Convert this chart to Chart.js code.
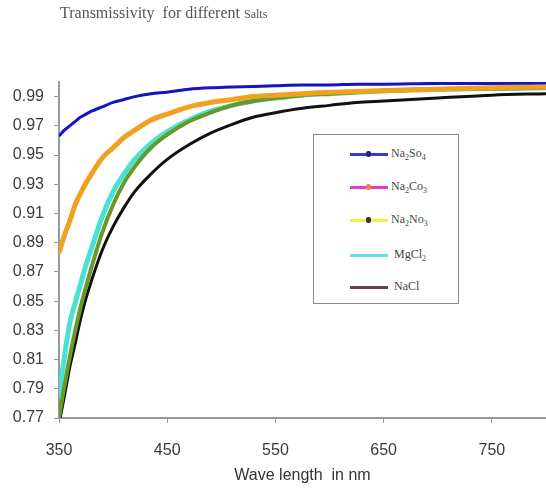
<!DOCTYPE html>
<html>
<head>
    <title>Transmissivity for different Salts</title>
    <script src="https://cdn.jsdelivr.net/npm/chart.js"></script>
    <style>
        body {
            margin: 0;
            padding: 0;
            background: #fff;
        }

        .wrap {
            position: relative;
            width: 546px;
            height: 497px;
        }

        .title {
            position: absolute;
            left: 60px;
            top: 4px;
            font-family: "Liberation Serif", serif;
            font-size: 16px;
            color: #555;
            white-space: pre;
        }

        .title small {
            font-size: 12px;
        }

        .legend {
            position: absolute;
            left: 313px;
            top: 134px;
            width: 144px;
            height: 168px;
            border: 1px solid #888;
            background: #fff;
            font-family: "Liberation Serif", serif;
            font-size: 12px;
            color: #444;
        }

        .legend .row {
            position: absolute;
            left: 36px;
            height: 14px;
            line-height: 14px;
            white-space: nowrap;
        }

        .legend .sw {
            display: inline-block;
            width: 38px;
            height: 3px;
            vertical-align: middle;
            margin-right: 3px;
            position: relative;
        }

        .legend .dot {
            position: absolute;
            left: 16px;
            top: -2px;
            width: 5px;
            height: 6px;
            border-radius: 2px;
        }

        .legend sub {
            font-size: 8px;
        }
    </style>
</head>
<body>
    <div class="wrap">
        <canvas id="chart" width="546" height="497"></canvas>
        <div class="title">Transmissivity  for different <small>Salts</small></div>
        <div class="legend">
            <div class="row" style="top:11px"><span class="sw" style="background:#3a3acc"><span class="dot" style="background:#22228a"></span></span>Na<sub>2</sub>So<sub>4</sub></div>
            <div class="row" style="top:44px"><span class="sw" style="background:#e040c8"><span class="dot" style="background:#f08040"></span></span>Na<sub>2</sub>Co<sub>3</sub></div>
            <div class="row" style="top:77px"><span class="sw" style="background:#f0f040"><span class="dot" style="background:#333"></span></span>Na<sub>2</sub>No<sub>3</sub></div>
            <div class="row" style="top:112px"><span class="sw" style="background:#66e0e0"></span> MgCl<sub>2</sub></div>
            <div class="row" style="top:144px"><span class="sw" style="background:#6a4058"></span> NaCl</div>
        </div>
    </div>

    <script>
        // wavelengths (nm) and transmissivity for each salt
        const wavelengths = [350, 355, 360, 365, 370, 375, 380, 390, 400, 410, 420, 435, 450, 470, 490, 510, 530, 550, 575, 600, 625, 650, 700, 750, 800];
        const na2so4 = [0.963, 0.967, 0.970, 0.973, 0.976, 0.978, 0.980, 0.983, 0.986, 0.988, 0.990, 0.992, 0.993, 0.995, 0.996, 0.9965, 0.997, 0.9975, 0.998, 0.998, 0.9985, 0.9985, 0.999, 0.999, 0.9993];
        const na2co3 = [0.883, 0.895, 0.905, 0.916, 0.924, 0.931, 0.937, 0.948, 0.955, 0.962, 0.967, 0.974, 0.978, 0.983, 0.986, 0.988, 0.990, 0.991, 0.992, 0.993, 0.9935, 0.994, 0.995, 0.996, 0.9965];
        const na2no3 = [0.770, 0.792, 0.812, 0.830, 0.846, 0.860, 0.873, 0.897, 0.916, 0.931, 0.942, 0.955, 0.964, 0.973, 0.979, 0.984, 0.987, 0.989, 0.991, 0.992, 0.993, 0.994, 0.995, 0.9955, 0.996];
        const mgcl2 = [0.785, 0.812, 0.835, 0.849, 0.862, 0.875, 0.886, 0.908, 0.925, 0.937, 0.947, 0.958, 0.966, 0.974, 0.980, 0.984, 0.987, 0.989, 0.991, 0.992, 0.993, 0.994, 0.995, 0.9955, 0.996];
        const nacl = [0.766, 0.785, 0.805, 0.821, 0.838, 0.852, 0.864, 0.885, 0.901, 0.914, 0.925, 0.937, 0.947, 0.957, 0.965, 0.971, 0.976, 0.979, 0.982, 0.984, 0.986, 0.987, 0.989, 0.991, 0.992];

        const xTicks = [350, 450, 550, 650, 750];
        const yTicks = [0.77, 0.79, 0.81, 0.83, 0.85, 0.87, 0.89, 0.91, 0.93, 0.95, 0.97, 0.99];

        function toPoints(values) {
            return values.map((v, i) => ({ x: wavelengths[i], y: v }));
        }

        function line(label, values, color, width) {
            return {
                label: label,
                data: toPoints(values),
                borderColor: color,
                backgroundColor: color,
                borderWidth: width,
                pointRadius: 0,
                cubicInterpolationMode: 'monotone',
                fill: false
            };
        }

        const ctx = document.getElementById('chart').getContext('2d');
        new Chart(ctx, {
            type: 'line',
            data: {
                datasets: [
                    line('Na2So4', na2so4, '#1414c4', 3),
                    line('Na2Co3', na2co3, '#f2a020', 5),
                    line('Na2No3', na2no3, '#6a9828', 4),
                    line('MgCl2', mgcl2, '#48e2d4', 5),
                    line('NaCl', nacl, '#111111', 3)
                ]
            },
            options: {
                responsive: false,
                animation: false,
                layout: {
                    padding: { top: 82, right: 0, left: 0, bottom: 0 }
                },
                plugins: {
                    legend: { display: false },
                    tooltip: { enabled: false }
                },
                scales: {
                    x: {
                        type: 'linear',
                        min: 350,
                        max: 800,
                        afterBuildTicks: (axis) => {
                            axis.ticks = xTicks.map(v => ({ value: v }));
                        },
                        afterFit: (axis) => {
                            axis.height = 79;
                        },
                        grid: {
                            drawOnChartArea: false,
                            color: '#999',
                            tickLength: 5
                        },
                        border: { color: '#999', width: 2 },
                        ticks: {
                            color: '#3a3a3a',
                            padding: 18,
                            maxRotation: 0,
                            font: { family: 'Liberation Sans', size: 16 }
                        },
                        title: {
                            display: true,
                            text: 'Wave length  in nm',
                            color: '#333',
                            padding: { top: 0, bottom: 12 },
                            font: { family: 'Liberation Sans', size: 16 }
                        }
                    },
                    y: {
                        type: 'linear',
                        min: 0.77,
                        max: 1.0,
                        afterBuildTicks: (axis) => {
                            axis.ticks = yTicks.map(v => ({ value: v }));
                        },
                        afterFit: (axis) => {
                            axis.width = 59;
                        },
                        grid: {
                            drawOnChartArea: false,
                            color: '#999',
                            tickLength: 5
                        },
                        border: { color: '#999', width: 2 },
                        ticks: {
                            color: '#3a3a3a',
                            padding: 10,
                            font: { family: 'Liberation Sans', size: 16 },
                            callback: (v) => v.toFixed(2)
                        }
                    }
                }
            }
        });
    </script>
</body>
</html>
